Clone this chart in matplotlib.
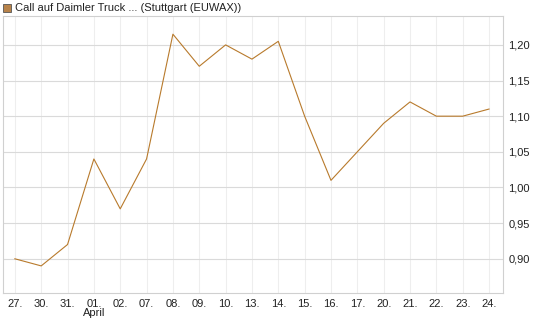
import matplotlib
matplotlib.use("Agg")
import matplotlib.pyplot as plt
from matplotlib.patches import Rectangle

plt.rcParams['font.family'] = ['Liberation Sans', 'DejaVu Sans']

dates = ["27.", "30.", "31.", "01.\nApril", "02.", "07.", "08.", "09.", "10.", "13.",
         "14.", "15.", "16.", "17.", "20.", "21.", "22.", "23.", "24."]
values = [0.90, 0.89, 0.92, 1.04, 0.97, 1.04, 1.215, 1.17, 1.20, 1.18,
          1.205, 1.10, 1.01, 1.05, 1.09, 1.12, 1.10, 1.10, 1.11]
yticks = [0.90, 0.95, 1.00, 1.05, 1.10, 1.15, 1.20]
ytick_labels = ["0,90", "0,95", "1,00", "1,05", "1,10", "1,15", "1,20"]

W, H = 545, 327
fig = plt.figure(figsize=(W / 100, H / 100), dpi=100)
ax = fig.add_axes([3 / W, (H - 293) / H, 500 / W, 277 / H])

x = list(range(len(values)))
ax.plot(x, values, color='#b87a2c', linewidth=0.8)

ax.set_xlim(-0.45, len(values) - 1 + 0.53)
ax.set_ylim(0.852, 1.2405)
ax.set_xticks(x)
ax.set_xticklabels(dates, fontsize=8, color='#222222', linespacing=0.95)
ax.set_yticks(yticks)
ax.set_yticklabels(ytick_labels, fontsize=8, color='#222222')
ax.yaxis.tick_right()
ax.tick_params(axis='x', length=0, pad=4)
ax.tick_params(axis='y', length=0, pad=4)
ax.xaxis.grid(True, color='#eeeeee', linewidth=0.8)
ax.yaxis.grid(True, color='#dadada', linewidth=0.8)
ax.set_axisbelow(True)
for s in ax.spines.values():
    s.set_color('#d0d0d0')
    s.set_linewidth(0.8)

fig.patches.append(Rectangle((3 / W, (H - 12) / H), 8 / W, 8 / H, transform=fig.transFigure,
                             facecolor='#b8834a', edgecolor='#555555', linewidth=0.6))
fig.text(15 / W, (H - 8) / H, "Call auf Daimler Truck ... (Stuttgart (EUWAX))",
         fontsize=8, va='center', ha='left', color='#222222')

fig.savefig("out.png", dpi=100)
